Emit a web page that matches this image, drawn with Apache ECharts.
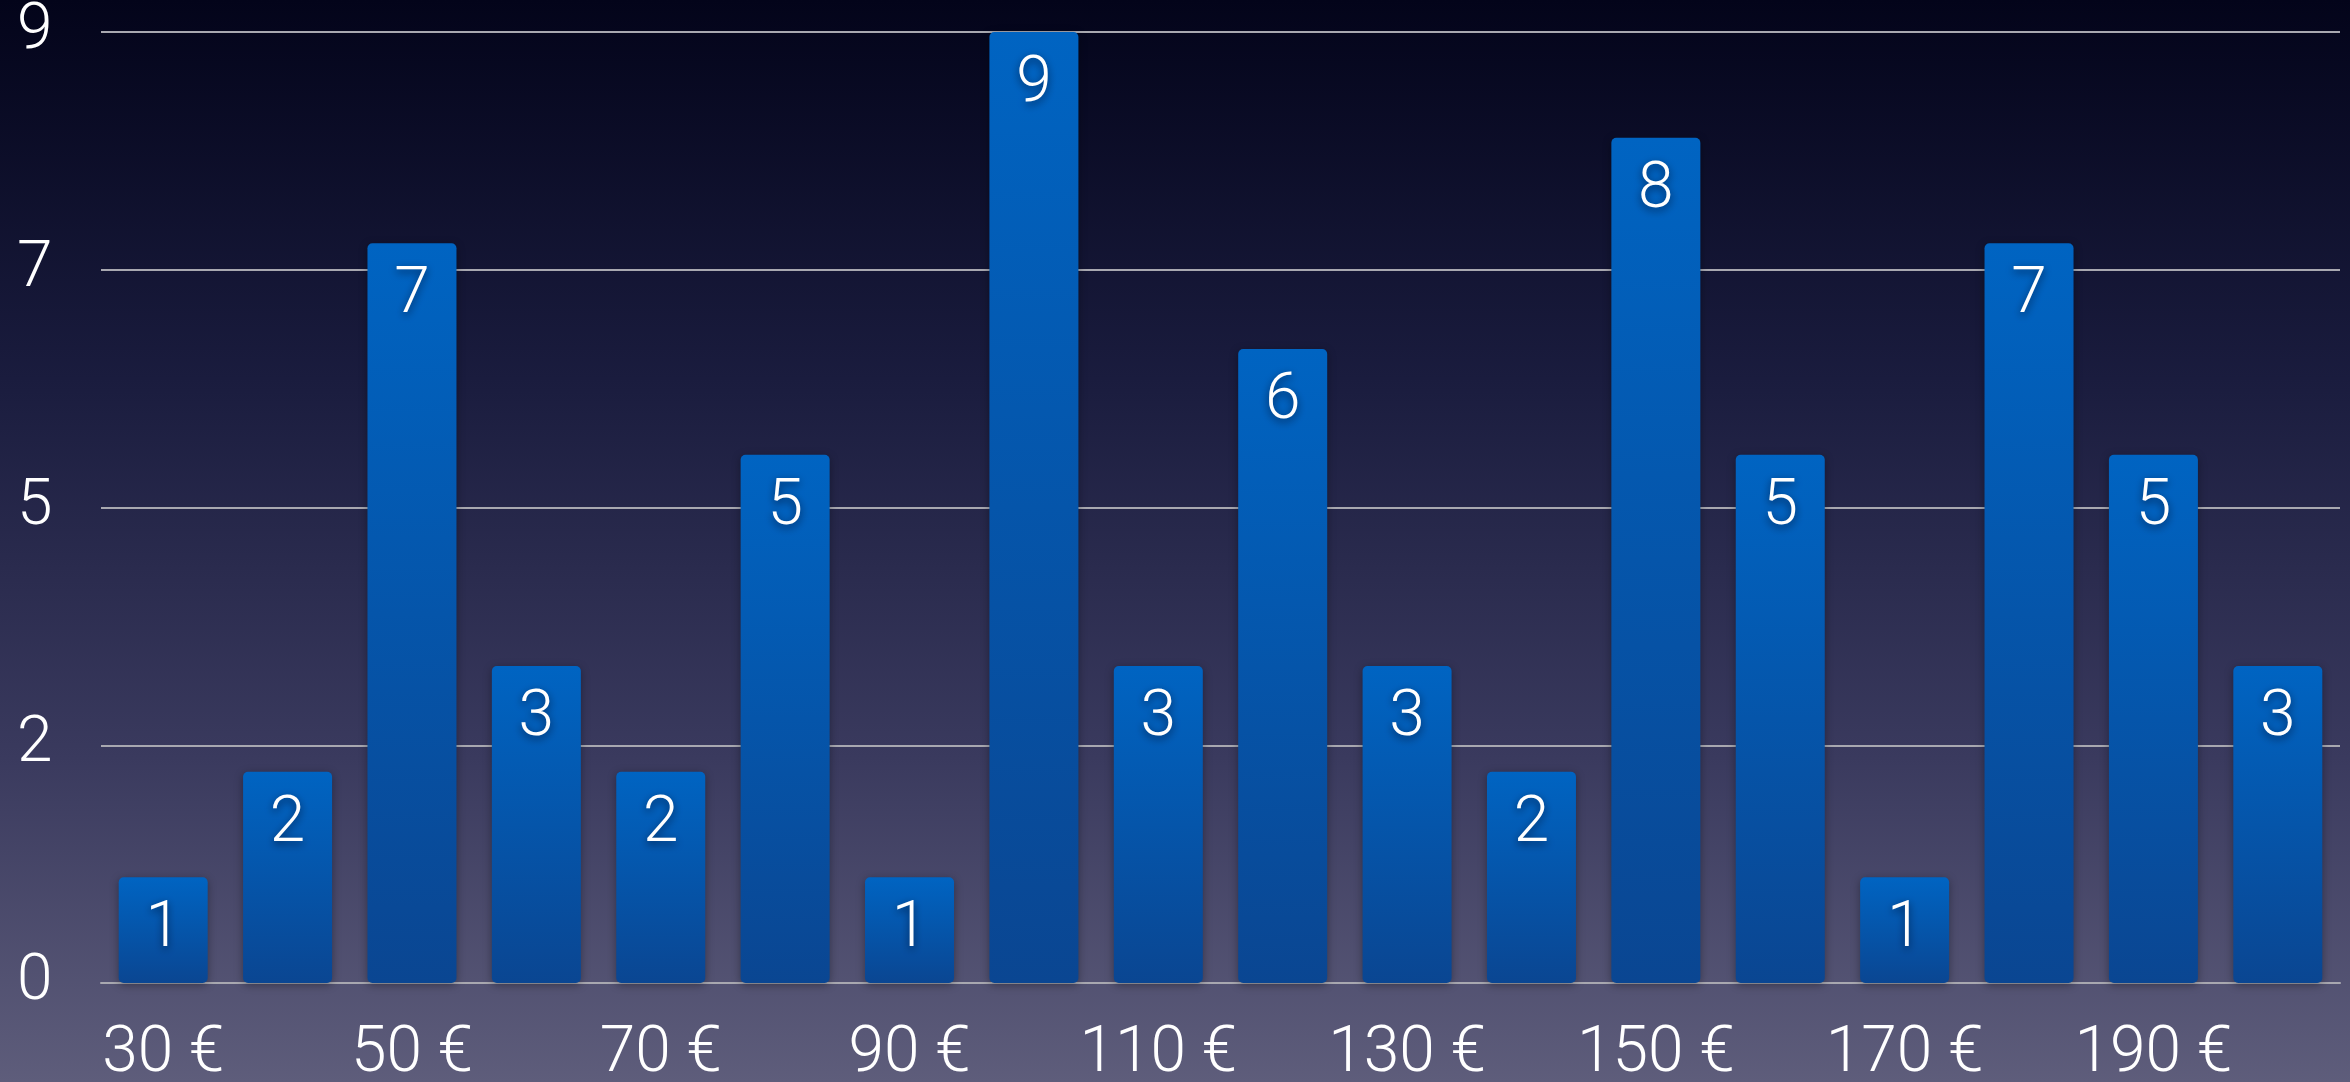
<!DOCTYPE html>
<html>
<head>
<meta charset="utf-8">
<script src="https://cdn.jsdelivr.net/npm/echarts@6/dist/echarts.min.js"></script>
<style>
html,body{margin:0;padding:0;width:2350px;height:1082px;overflow:hidden;}
#chart{width:2350px;height:1082px;background:linear-gradient(to bottom,#03041a 0%,#1a1c3e 35%,#3a3a5e 70%,#5e5d7b 100%);}
</style>
</head>
<body>
<div id="chart"></div>
<script>
const categories = ['30 €','40 €','50 €','60 €','70 €','80 €','90 €','100 €','110 €','120 €','130 €','140 €','150 €','160 €','170 €','180 €','190 €','200 €'];
const counts = [1,2,7,3,2,5,1,9,3,6,3,2,8,5,1,7,5,3];
const yMin = 0, yMax = 9, yStep = 2.25;

const FONT = 'Roboto';
const chart = echarts.init(document.getElementById('chart'), null, {renderer:'canvas'});
chart.setOption({
  backgroundColor: 'transparent',
  animation: false,
  grid: {left: 101, right: 10, top: 32, bottom: 99, containLabel: false, outerBoundsMode: 'none'},
  xAxis: {
    type: 'category',
    data: categories,
    axisTick: {show: false},
    axisLine: {show: true, lineStyle: {color: '#a8a8b0', width: 2}},
    axisLabel: {
      interval: 1,
      color: '#ffffff',
      fontFamily: FONT,
      fontWeight: 300,
      fontSize: 64,
      margin: 40
    }
  },
  yAxis: {
    type: 'value',
    min: yMin, max: yMax, interval: yStep,
    axisLine: {show: false},
    axisTick: {show: false},
    splitLine: {show: true, lineStyle: {color: '#a8a8b0', width: 2}},
    axisLabel: {
      color: '#ffffff',
      fontFamily: FONT,
      fontWeight: 300,
      fontSize: 64,
      align: 'left',
      margin: 84,
      padding: [14, 0, 0, 0],
      formatter: v => String(Math.round(v))
    }
  },
  series: [{
    type: 'bar',
    data: counts,
    barWidth: 89,
    itemStyle: {
      borderRadius: 5,
      color: new echarts.graphic.LinearGradient(0,0,0,1,[
        {offset:0, color:'#0064c2'},
        {offset:1, color:'#0a4692'}
      ]),
      shadowColor: 'rgba(0,0,0,0.35)',
      shadowBlur: 8,
      shadowOffsetY: 2
    },
    label: {
      show: true,
      position: 'insideTop',
      distance: 21,
      color: '#ffffff',
      fontFamily: FONT,
      fontWeight: 300,
      fontSize: 64,
      textShadowColor: 'rgba(0,0,20,0.6)',
      textShadowBlur: 8,
      textShadowOffsetY: 3
    }
  }]
});
</script>
</body>
</html>
